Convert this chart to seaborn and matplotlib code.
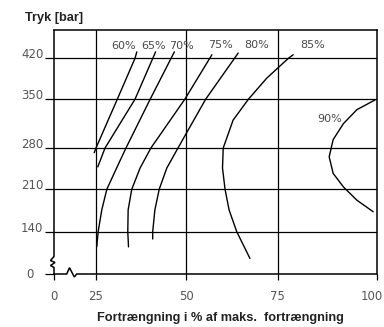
import numpy as np
import pandas as pd
import matplotlib
matplotlib.use("Agg")
import matplotlib.pyplot as plt
import matplotlib.transforms as mtransforms
import seaborn as sns

# Axis knots of the broken, hand-drawn scales: value -> distance along the axis
x_knots = [0, 20, 25, 50, 75, 100]
x_pos = [0, 24, 42, 132.3, 223.7, 322.7]
y_knots = [0, 95, 140, 210, 280, 350, 420, 468.4]
y_pos = [0, 15, 42.3, 84.7, 126, 174.8, 215.7, 244]

x_ticks = [0, 25, 50, 75, 100]
y_ticks = [0, 140, 210, 280, 350, 420]
x_grid = [25, 50, 75]
y_grid = [140, 210, 280, 350, 420]

# Efficiency curves: displacement (% of max) and pressure (bar)
disp_60 = [24.5, 25.0, 30.9, 35.8, 36.3]
pres_60 = [272, 280, 350, 420, 431]
disp_65 = [25.5, 27.5, 35.8, 41.5]
pres_65 = [248, 280, 350, 431]
disp_70 = [25.2, 25.6, 26.6, 28.0, 30.7, 33.3, 40.0, 46.7]
pres_70 = [115, 140, 176, 210, 246, 280, 350, 431]
disp_75 = [34.0, 33.8, 33.9, 34.9, 37.2, 40.2, 49.6, 57.0]
pres_75 = [115, 140, 176, 210, 246, 280, 350, 426]
disp_80 = [40.7, 40.7, 41.3, 42.5, 44.6, 47.7, 55.3, 64.2]
pres_80 = [128, 140, 176, 210, 246, 280, 350, 429]
disp_85 = [67.4, 63.8, 61.7, 60.6, 59.9, 60.1, 62.8, 67.0, 72.0, 77.7, 78.9]
pres_85 = [96, 140, 176, 210, 246, 280, 320, 350, 386, 420, 426]
disp_90 = [99.1, 95.0, 91.6, 89.0, 88.0, 89.0, 91.6, 95.0, 99.6]
pres_90 = [173, 192, 214, 237, 265, 292, 315, 335, 349]

levels = ["60%", "65%", "70%", "75%", "80%", "85%", "90%"]
label_x = [32.5, 41.0, 48.7, 59.3, 69.2, 83.9, 88.2]
label_y = [441, 441, 441, 443, 443, 443, 322]

curves = [(disp_60, pres_60), (disp_65, pres_65), (disp_70, pres_70),
          (disp_75, pres_75), (disp_80, pres_80), (disp_85, pres_85),
          (disp_90, pres_90)]
frames = []
for name, (d, p) in zip(levels, curves):
    frames.append(pd.DataFrame({"curve": name, "disp": d, "pres": p}))
df = pd.concat(frames, ignore_index=True)


def piecewise(knots, pos):
    k = np.asarray(knots, float)
    q = np.asarray(pos, float)

    def fwd(v):
        v = np.asarray(v, float)
        out = np.interp(v, k, q)
        out = np.where(v < k[0], q[0] + (v - k[0]) * (q[1] - q[0]) / (k[1] - k[0]), out)
        out = np.where(v > k[-1], q[-1] + (v - k[-1]) * (q[-1] - q[-2]) / (k[-1] - k[-2]), out)
        return out

    def inv(u):
        u = np.asarray(u, float)
        out = np.interp(u, q, k)
        out = np.where(u < q[0], k[0] + (u - q[0]) * (k[1] - k[0]) / (q[1] - q[0]), out)
        out = np.where(u > q[-1], k[-1] + (u - q[-1]) * (k[-1] - k[-2]) / (q[-1] - q[-2]), out)
        return out

    return fwd, inv


sns.set_theme(style="white")
plt.rcParams["font.family"] = ["DejaVu Sans"]

W, H = 384, 327
fig = plt.figure(figsize=(W / 100, H / 100), dpi=100)
aw, ah = 322.7, 244.0
ax = fig.add_axes([54 / W, 1 - 274 / H, aw / W, ah / H])
ax.set_xscale("function", functions=piecewise(x_knots, x_pos))
ax.set_yscale("function", functions=piecewise(y_knots, y_pos))
ax.set_xlim(x_knots[0], x_knots[-1])
ax.set_ylim(y_knots[0], y_knots[-1])

for gx in x_grid:
    ax.axvline(gx, color="black", lw=0.9, zorder=1)
for gy in y_grid:
    ax.axhline(gy, color="black", lw=0.9, zorder=1)

sns.lineplot(data=df, x="disp", y="pres", units="curve", estimator=None,
             sort=False, color="black", lw=1.0, ax=ax, zorder=3)

for name, lx, ly in zip(levels, label_x, label_y):
    ax.text(lx, ly, name, ha="center", va="center", fontsize=8,
            color="#4a4a4a", zorder=4)

# Frame: plain top/right, broken left/bottom
for side in ("top", "right"):
    ax.spines[side].set_color("black")
    ax.spines[side].set_linewidth(1.1)
for side in ("left", "bottom"):
    ax.spines[side].set_visible(False)

left_px = [(0, 244), (0, 17.5), (-3.5, 13.5), (1, 11.5), (-3.5, 8.5), (0, 6.5), (0, 0)]
bottom_px = [(0, 0), (12.7, 0), (15.5, 6.3), (20.3, -3), (22.7, 0), (aw, 0)]
for path in (left_px, bottom_px):
    xs = [p[0] / aw for p in path]
    ys = [p[1] / ah for p in path]
    ax.plot(xs, ys, color="black", lw=1.1, transform=ax.transAxes,
            clip_on=False, zorder=5, solid_joinstyle="miter")

ax.set_xticks(x_ticks)
ax.set_xticklabels([str(t) for t in x_ticks])
ax.set_yticks(y_ticks)
ax.set_yticklabels([""] + [str(t) for t in y_ticks[1:]])
ax.minorticks_off()
ax.tick_params(axis="x", direction="out", length=4.5, width=0.9, pad=6.8,
               labelsize=8.5, labelcolor="#555555", color="black", bottom=True)
ax.tick_params(axis="y", direction="out", length=6.5, width=0.9, pad=1.2,
               labelsize=8.5, labelcolor="#555555", color="black", left=True)
for lab in ax.get_yticklabels():
    lab.set_verticalalignment("baseline")
# the last x label sits against the right edge of the figure
last = ax.get_xticklabels()[-1]
last.set_transform(last.get_transform() +
                   mtransforms.ScaledTranslation(-4.5 / 100, 0, fig.dpi_scale_trans))
ax.text(-20.7 / aw, 0, "0", ha="right", va="center", fontsize=8.5,
        color="#555555",
        transform=mtransforms.blended_transform_factory(ax.transAxes, ax.transData))
ax.set_xlabel("")
ax.set_ylabel("")

fig.text(25 / W, 1 - 17.5 / H, "Tryk [bar]", ha="left", va="center",
         fontsize=9.2, fontweight="bold", color="#222222",
         family=["Liberation Sans", "DejaVu Sans"])
fig.text(220 / W, 1 - 318 / H, "Fortrængning i % af maks.  fortrængning",
         ha="center", va="center", fontsize=9.2, fontweight="bold",
         color="#222222", family=["Liberation Sans", "DejaVu Sans"])

fig.savefig("out.png", dpi=100, facecolor="white")
